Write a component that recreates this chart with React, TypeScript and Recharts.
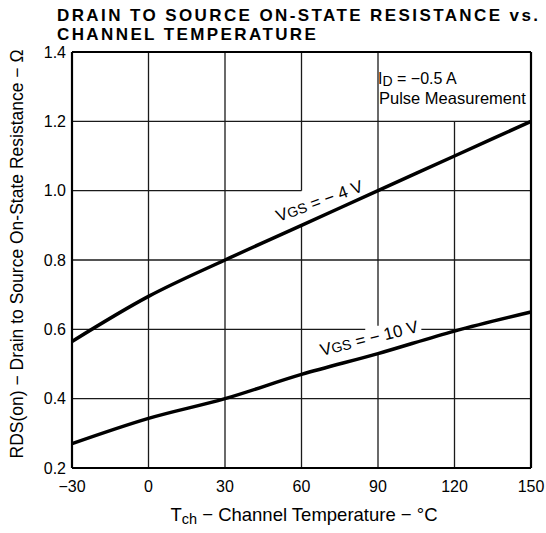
import React from "react";
import { LineChart, Line, XAxis, YAxis, ReferenceLine, ReferenceDot } from "recharts";

const temps = [-30, 0, 30, 60, 90, 120, 150];
const rdsVgs4 = [0.565, 0.695, 0.8, 0.9, 1.0, 1.1, 1.2];
const rdsVgs10 = [0.27, 0.343, 0.4, 0.47, 0.53, 0.595, 0.65];
const xTicks = [-30, 0, 30, 60, 90, 120, 150];
const yTicks = [0.2, 0.4, 0.6, 0.8, 1.0, 1.2, 1.4];

const data = temps.map((t, i) => ({ t, vgs4: rdsVgs4[i], vgs10: rdsVgs10[i] }));

const FONT = "'Liberation Sans', Arial, sans-serif";
const GRID = { stroke: "#1a1a1a", strokeWidth: 1.3 };
const BORDER = { stroke: "#000", strokeWidth: 2.2 };

// rotated curve label sitting just above its line
function curveLabel(text: string, angle: number, lift: number) {
  return (props: any) => (
    <g transform={`translate(${props.cx},${props.cy}) rotate(${angle})`}>
      <text x={0} y={-lift} textAnchor="middle" fontSize={17} fontFamily={FONT} fill="#000">
        <tspan>V</tspan>
        <tspan fontSize={14}>GS</tspan>
        <tspan>{text}</tspan>
      </text>
    </g>
  );
}

export default function App() {
  return (
    <div style={{ position: "absolute", left: 0, top: 0, width: 546, height: 533, background: "#fff" }}>
      <LineChart width={546} height={533} data={data} margin={{ top: 52, right: 15, bottom: 0, left: 0 }}>
        <XAxis
          dataKey="t"
          type="number"
          domain={[-30, 150]}
          ticks={xTicks}
          height={65}
          tickSize={0}
          tickMargin={13}
          axisLine={BORDER}
          tickLine={false}
          tick={{ fontSize: 16, fill: "#000", fontFamily: FONT }}
          tickFormatter={(v: number) => (v < 0 ? `\u2212${-v}` : `${v}`)}
        />
        <YAxis
          type="number"
          domain={[0.2, 1.4]}
          ticks={yTicks}
          width={72}
          tickSize={0}
          tickMargin={6}
          axisLine={BORDER}
          tickLine={false}
          tick={{ fontSize: 16, fill: "#000", fontFamily: FONT }}
          tickFormatter={(v: number) => v.toFixed(1)}
        />
        {/* grid, with the gaps the original leaves around its labels */}
        <ReferenceLine segment={[{ x: 0, y: 0.2 }, { x: 0, y: 1.4 }]} {...GRID} />
        <ReferenceLine segment={[{ x: 30, y: 0.2 }, { x: 30, y: 1.4 }]} {...GRID} />
        <ReferenceLine segment={[{ x: 60, y: 0.2 }, { x: 60, y: 0.9 }]} {...GRID} />
        <ReferenceLine segment={[{ x: 60, y: 1.0 }, { x: 60, y: 1.4 }]} {...GRID} />
        <ReferenceLine segment={[{ x: 90, y: 0.2 }, { x: 90, y: 0.53 }]} {...GRID} />
        <ReferenceLine segment={[{ x: 90, y: 0.61 }, { x: 90, y: 1.4 }]} {...GRID} />
        <ReferenceLine segment={[{ x: 120, y: 0.2 }, { x: 120, y: 1.2 }]} {...GRID} />
        <ReferenceLine segment={[{ x: -30, y: 0.4 }, { x: 150, y: 0.4 }]} {...GRID} />
        <ReferenceLine segment={[{ x: -30, y: 0.6 }, { x: 85, y: 0.6 }]} {...GRID} />
        <ReferenceLine segment={[{ x: 107, y: 0.6 }, { x: 150, y: 0.6 }]} {...GRID} />
        <ReferenceLine segment={[{ x: -30, y: 0.8 }, { x: 150, y: 0.8 }]} {...GRID} />
        <ReferenceLine segment={[{ x: -30, y: 1.0 }, { x: 60, y: 1.0 }]} {...GRID} />
        <ReferenceLine segment={[{ x: 90, y: 1.0 }, { x: 150, y: 1.0 }]} {...GRID} />
        <ReferenceLine segment={[{ x: -30, y: 1.2 }, { x: 150, y: 1.2 }]} {...GRID} />
        <ReferenceLine y={1.4} {...BORDER} />
        <ReferenceLine x={150} {...BORDER} />
        <Line type="monotone" dataKey="vgs4" stroke="#000" strokeWidth={3.5} dot={false} isAnimationActive={false} />
        <Line type="monotone" dataKey="vgs10" stroke="#000" strokeWidth={3.5} dot={false} isAnimationActive={false} />
        <ReferenceDot x={69} y={0.93} r={1} shape={curveLabel(" = \u2212 4 V", -20, 9)} />
        <ReferenceDot x={88} y={0.53} r={1} shape={curveLabel(" = \u2212 10 V", -14, 10)} />
      </LineChart>
      <svg
        width={546}
        height={533}
        style={{ position: "absolute", left: 0, top: 0, pointerEvents: "none" }}
        fontFamily={FONT}
      >
        <text x={57} y={21} fontSize={17} fontWeight="bold" letterSpacing={2.4} fill="#000">
          DRAIN TO SOURCE ON-STATE RESISTANCE vs.
        </text>
        <text x={57} y={40} fontSize={17} fontWeight="bold" letterSpacing={2.4} fill="#000">
          CHANNEL TEMPERATURE
        </text>
        <text x={378} y={84} fontSize={16} fill="#000">
          <tspan>I</tspan>
          <tspan fontSize={14} dy={2}>D</tspan>
          <tspan dy={-2}> = {"\u2212"}0.5 A</tspan>
        </text>
        <text x={379} y={104} fontSize={16.5} fill="#000">
          Pulse Measurement
        </text>
        <text x={304} y={521} fontSize={18.5} textAnchor="middle" fill="#000">
          <tspan>T</tspan>
          <tspan fontSize={14.5} dy={3}>ch</tspan>
          <tspan dy={-3}> {"\u2212"} Channel Temperature {"\u2212"} °C</tspan>
        </text>
        <text transform="translate(23,254) rotate(-90)" fontSize={17.5} textAnchor="middle" fill="#000">
          RDS(on) {"\u2212"} Drain to Source On-State Resistance {"\u2212"} Ω
        </text>
      </svg>
    </div>
  );
}
